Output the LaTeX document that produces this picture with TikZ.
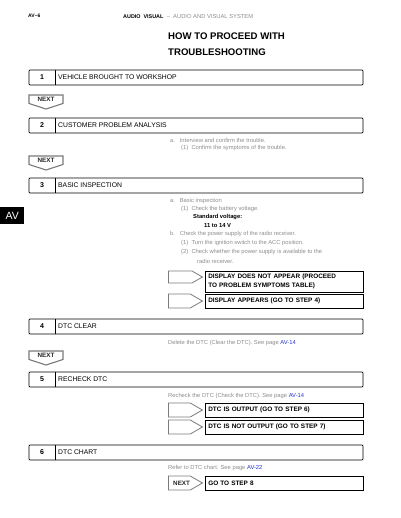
\documentclass[tikz,border=0pt]{standalone}
\usepackage{fontspec}
\setmainfont{Liberation Sans}
\usepackage{xcolor}
\usepackage{tikz}
\usetikzlibrary{positioning,calc,shapes.symbols,shadows}
\definecolor{faint}{HTML}{8c8c8c}
\definecolor{tagline}{HTML}{7a7a7a}
\definecolor{linkblue}{HTML}{2233cc}

\tikzset{
  stepnum/.style={inner sep=0pt, font=\fontsize{7}{8}\selectfont\bfseries},
  steplabel/.style={anchor=west, inner sep=0pt, font=\fontsize{6.8}{8}\selectfont},
  note/.style={anchor=west, inner sep=0pt, text=faint, font=\fontsize{5.8}{7}\selectfont},
  spec/.style={anchor=west, inner sep=0pt, font=\fontsize{5.8}{7}\selectfont\bfseries},
  nextlabel/.style={inner sep=0pt, text=black!85, font=\fontsize{6.3}{7}\selectfont\bfseries},
  result/.style={draw, line width=0.6pt, fill=white, anchor=west, text width=152pt,
    inner xsep=3pt, inner ysep=0pt, minimum height=#1, align=left,
    font=\fontsize{6.4}{9}\selectfont\bfseries,
    drop shadow={shadow xshift=1.1pt, shadow yshift=-1.1pt, fill=tagline, opacity=1}},
  result/.default=14pt,
  tag/.style={signal, signal to=east, draw=tagline, line width=0.8pt, anchor=west,
    minimum width=34pt, minimum height=#1, inner sep=0pt, signal pointer angle=60},
  tag/.default=14pt
}

\begin{document}
\begin{tikzpicture}[x=1pt, y=-1pt]
  \useasboundingbox (0,0) rectangle (400,518);

  % Page header and title
  \node[anchor=west, inner sep=0pt, font=\fontsize{5}{6}\selectfont\bfseries] (pageno) at (28,16) {AV--6};
  \node[anchor=west, inner sep=0pt, font=\fontsize{5.4}{6}\selectfont\bfseries] (section) at (123,17) {AUDIO\ \ VISUAL};
  \node[note, right=3pt of section] (system) {--\ \ AUDIO AND VISUAL SYSTEM};
  \node[anchor=west, inner sep=0pt, align=left, font=\fontsize{9.6}{16}\selectfont\bfseries] (title) at (168,44)
    {HOW TO PROCEED WITH\\TROUBLESHOOTING};

  % Side tab
  \node[fill=black, text=white, anchor=west, minimum width=24pt, minimum height=17pt, inner sep=0pt,
    font=\fontsize{10.5}{11}\selectfont] (avtab) at (0,215.5) {AV};

  % Step boxes
  \foreach \n/\y/\lbl in {1/70/VEHICLE BROUGHT TO WORKSHOP, 2/118/CUSTOMER PROBLEM ANALYSIS,
      3/178/BASIC INSPECTION, 4/319/DTC CLEAR, 5/372/RECHECK DTC, 6/445/DTC CHART} {
    \draw[line width=0.7pt, rounded corners=0.8pt] (29,\y) rectangle (363,{\y+15});
    \draw[line width=0.7pt] (55,\y) -- (55,{\y+15});
    \node[stepnum] (num\n) at (42,{\y+7.5}) {\n};
    \node[steplabel] (step\n) at (58,{\y+7.5}) {\lbl};
  }

  % NEXT badges
  \foreach \y [count=\k] in {95,156,351} {
    \draw[tagline, line width=1.1pt, fill=white] (29,\y) -- (63,\y) -- (63,{\y+8.5}) -- (46,{\y+14}) -- (29,{\y+8.5}) -- cycle;
    \node[nextlabel] (next\k) at (46,{\y+4.8}) {NEXT};
  }

  % Step 2 notes
  \node[note] (n2a) at (170,140) {a.\ \ \ Interview and confirm the trouble.};
  \node[note] (n2b) at (181,148.5) {(1)\ \ Confirm the symptoms of the trouble.};

  % Step 3 notes
  \node[note] (n3a) at (170,201) {a.\ \ \ Basic inspection};
  \node[note] (n3b) at (181,209) {(1)\ \ Check the battery voltage.};
  \node[spec] (n3c) at (193,217) {Standard voltage:};
  \node[spec] (n3d) at (204,225.5) {11 to 14 V};
  \node[note] (n3e) at (170,234) {b.\ \ \ Check the power supply of the radio receiver.};
  \node[note] (n3f) at (181,243) {(1)\ \ Turn the ignition switch to the ACC position.};
  \node[note] (n3g) at (181,252) {(2)\ \ Check whether the power supply is available to the};
  \node[note] (n3h) at (197,261) {radio receiver.};
  \node[tag=12pt] (tagA) at (168,277) {};
  \node[result=21pt] (resA) at (205,281.5) {DISPLAY DOES NOT APPEAR (PROCEED\\TO PROBLEM SYMPTOMS TABLE)};
  \node[tag] (tagB) at (168,301) {};
  \node[result] (resB) at (205,301) {DISPLAY APPEARS (GO TO STEP 4)};

  % Step 4 note
  \node[note] (n4a) at (168,343) {Delete the DTC (Clear the DTC). See page \textcolor{linkblue}{AV-14}};

  % Step 5 note and results
  \node[note] (n5a) at (168,396) {Recheck the DTC (Check the DTC). See page \textcolor{linkblue}{AV-14}};
  \node[tag] (tagC) at (168,410) {};
  \node[result] (resC) at (205,410) {DTC IS OUTPUT (GO TO STEP 6)};
  \node[tag] (tagD) at (168,427) {};
  \node[result] (resD) at (205,427) {DTC IS NOT OUTPUT (GO TO STEP 7)};

  % Step 6 note and result
  \node[note] (n6a) at (168,468) {Refer to DTC chart. See page \textcolor{linkblue}{AV-22}};
  \node[tag] (tagE) at (168,483) {};
  \node[nextlabel, right=5pt of tagE.west] (next4) {NEXT};
  \node[result] (resE) at (205,483) {GO TO STEP 8};
\end{tikzpicture}
\end{document}
